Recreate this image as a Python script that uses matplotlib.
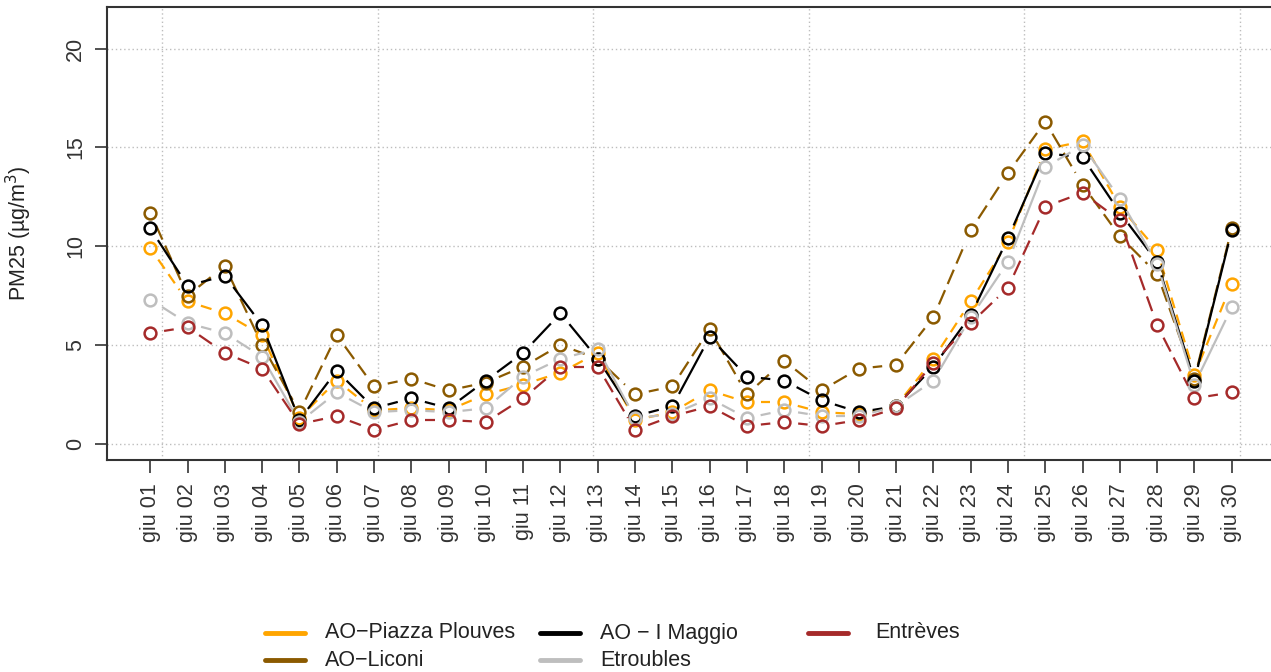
import matplotlib
matplotlib.use("Agg")
import matplotlib.pyplot as plt
from matplotlib.lines import Line2D
import numpy as np

plt.rcParams['font.family'] = ['Liberation Sans', 'DejaVu Sans']

days = ["giu %02d" % d for d in range(1, 31)]

piazza_plouves = [9.9, 7.2, 6.6, 5.5, 1.3, 3.2, 1.7, 1.8, 1.7, 2.5,
                  3.0, 3.6, 4.6, 1.2, 1.6, 2.7, 2.1, 2.1, 1.6, 1.5,
                  1.9, 4.3, 7.2, 10.2, 14.9, 15.3, 12.0, 9.8, 3.5, 8.1]
liconi = [11.7, 7.5, 9.0, 5.0, 1.6, 5.5, 2.9, 3.3, 2.7, 3.1,
          3.9, 5.0, 4.3, 2.5, 2.9, 5.8, 2.5, 4.2, 2.7, 3.8,
          4.0, 6.4, 10.8, 13.7, 16.3, 13.1, 10.5, 8.6, 3.3, 10.9]
i_maggio = [10.9, 8.0, 8.5, 6.0, 1.2, 3.7, 1.8, 2.3, 1.8, 3.2,
            4.6, 6.6, 4.3, 1.4, 1.9, 5.4, 3.4, 3.2, 2.2, 1.6,
            1.9, 3.9, 6.5, 10.4, 14.7, 14.5, 11.7, 9.2, 3.2, 10.8]
etroubles = [7.3, 6.1, 5.6, 4.4, 1.1, 2.6, 1.6, 1.7, 1.6, 1.8,
             3.4, 4.3, 4.8, 1.3, 1.5, 2.3, 1.3, 1.7, 1.4, 1.4,
             1.9, 3.2, 6.4, 9.2, 14.0, 15.1, 12.4, 9.1, 3.0, 6.9]
entreves = [5.6, 5.9, 4.6, 3.8, 1.0, 1.4, 0.7, 1.2, 1.2, 1.1,
            2.3, 3.9, 3.9, 0.7, 1.4, 1.9, 0.9, 1.1, 0.9, 1.2,
            1.8, 4.1, 6.1, 7.9, 12.0, 12.7, 11.3, 6.0, 2.3, 2.6]

series = [
    ("AO\u2212Piazza Plouves", piazza_plouves, "#FFA500", (0, (5, 3))),
    ("AO\u2212Liconi", liconi, "#8B5A00", (0, (7, 3))),
    ("AO \u2212 I Maggio", i_maggio, "#000000", "-"),
    ("Etroubles", etroubles, "#BEBEBE", "-"),
    ("Entrèves", entreves, "#A52A2A", (0, (7, 3))),
]

# vertical grid lines (index units) as drawn in the original
grid_x = [0.32, 6.10, 11.87, 17.67, 23.42, 29.22]

W, H, DPI = 1271, 672, 100
fig = plt.figure(figsize=(W / DPI, H / DPI), dpi=DPI)
ax = fig.add_axes([107 / W, 1 - 460 / H, (1275 - 107) / W, (460 - 7) / H])

x = np.arange(len(days))
ax.set_xlim(-1.16, 30.16)
ax.set_ylim(-0.82, 22.1)

for gx in grid_x:
    ax.axvline(gx, color="#BDBDBD", lw=1.0, ls=(0, (1, 2)), zorder=0)
for gy in [0, 5, 10, 15, 20]:
    ax.axhline(gy, color="#BDBDBD", lw=1.0, ls=(0, (1, 2)), zorder=0)

# R type="b": segments stop short of the points
gap = 14
lw = 1.6
for name, vals, color, dash in series:
    pts = ax.transData.transform(np.column_stack([x, vals]))
    inv = ax.transData.inverted()
    for p0, p1 in zip(pts[:-1], pts[1:]):
        d = p1 - p0
        L = np.hypot(d[0], d[1])
        if L <= 2 * gap:
            continue
        u = d / L
        seg = inv.transform(np.array([p0 + u * gap, p1 - u * gap]))
        ax.plot(seg[:, 0], seg[:, 1], color=color, lw=lw, linestyle=dash,
                solid_capstyle="butt", dash_capstyle="butt")
    ax.plot(x, vals, "o", mfc="none", mec=color, mew=1.8, ms=8.5)

ax.set_xticks(x)
ax.set_xticklabels(days, rotation=90, va="top", ha="center")
ax.set_yticks([0, 5, 10, 15, 20])
ax.set_yticklabels(["0", "5", "10", "15", "20"], rotation=90, va="center")
ax.tick_params(direction="out", length=9, width=1.2, colors="#333333",
               labelsize=15.5, pad=8)
ax.tick_params(axis="y", pad=6)
for sp in ax.spines.values():
    sp.set_color("#333333")
    sp.set_linewidth(1.5)

ax.set_ylabel("PM25 (µg/m$^3$)", fontsize=15.5, color="#222222")
ax.yaxis.set_label_coords((34 - 107) / (1275 - 107), 0.5)

# legend below the plot, laid out in three columns like the original
leg_cols = [(265, 325), (265, 325), (540, 600), (540, 600), (808, 875)]
leg_rows = [633, 660, 633, 660, 633]
for (name, vals, color, dash), (hx, tx), ry in zip(series, leg_cols, leg_rows):
    fy = 1 - ry / H
    fig.add_artist(Line2D([hx / W, (hx + 40) / W], [fy, fy], color=color, lw=3.5,
                          solid_capstyle="round"))
    fig.text(tx / W, fy, name, fontsize=15.5, va="center", ha="left", color="#222222")

fig.savefig("out.png", dpi=DPI)
